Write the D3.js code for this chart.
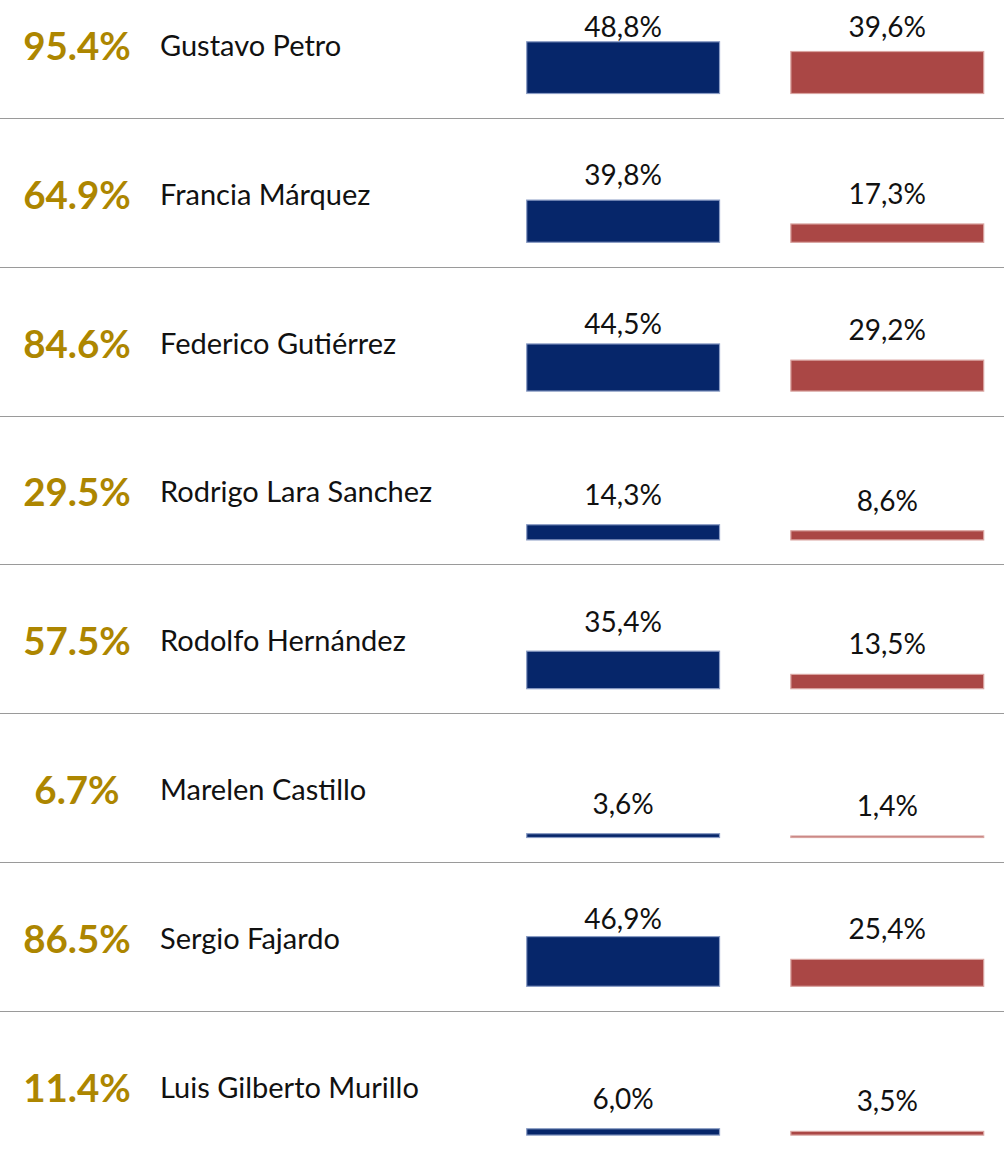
<!DOCTYPE html>
<html>
<head>
<meta charset="utf-8">
<script src="https://cdn.jsdelivr.net/npm/d3@7"></script>
<style>
  html, body { margin: 0; padding: 0; background: #fff; }
  svg { display: block; }
</style>
</head>
<body>
<div id="chart"></div>
<script>
// ------------------------------------------------------
// Data
const candidates = [
  'Gustavo Petro',
  'Francia Márquez',
  'Federico Gutiérrez',
  'Rodrigo Lara Sanchez',
  'Rodolfo Hernández',
  'Marelen Castillo',
  'Sergio Fajardo',
  'Luis Gilberto Murillo'
]
const totals = [95.4, 64.9, 84.6, 29.5, 57.5, 6.7, 86.5, 11.4]
const blueValues = [48.8, 39.8, 44.5, 14.3, 35.4, 3.6, 46.9, 6.0]
const redValues = [39.6, 17.3, 29.2, 8.6, 13.5, 1.4, 25.4, 3.5]
const seriesKeys = ['blue', 'red']

// ------------------------------------------------------
// Size of the page
const width = 1004
const height = 1156

const fontFamily = 'Lato, "Open Sans", sans-serif'
const colors = { blue: '#06266a', red: '#aa4745' }
const edges = { blue: '#8a9cc4', red: '#d9a4a0' }

const svg = d3.select('#chart')
  .append('svg')
  .attr('width', width)
  .attr('height', height)

// One band per candidate row (the first row is cropped at the top)
const rowScale = d3.scaleBand()
  .domain(candidates)
  .range([-30.8, 1159.6])

// Two bar columns
const colScale = d3.scaleBand()
  .domain(seriesKeys)
  .range([526.7, 983.7])
  .paddingInner(0.27)

// Bar height per percentage point
const hScale = d3.scaleLinear()
  .domain([0, 100])
  .range([0, 106])

const commaFormat = d3.formatLocale({ decimal: ',', thousands: '.', grouping: [3], currency: ['', ''] }).format('.1f')
const dotFormat = d3.format('.1f')

const rows = candidates.map((name, i) => ({
  name,
  total: totals[i],
  bars: [
    { key: 'blue', value: blueValues[i] },
    { key: 'red', value: redValues[i] }
  ]
}))

// Separator lines under every row but the last
svg.selectAll('line.sep')
  .data(candidates.slice(0, -1))
  .enter()
  .append('line')
  .attr('class', 'sep')
  .attr('x1', 0)
  .attr('x2', width)
  .attr('y1', d => Math.round(rowScale(d) + rowScale.bandwidth()) + 0.5)
  .attr('y2', d => Math.round(rowScale(d) + rowScale.bandwidth()) + 0.5)
  .attr('stroke', '#9a9a9a')
  .attr('stroke-width', 1.2)

const row = svg.selectAll('g.row')
  .data(rows)
  .enter()
  .append('g')
  .attr('class', 'row')
  .attr('transform', d => `translate(0, ${rowScale(d.name) + rowScale.bandwidth()})`)

// Gold overall percentage
row.append('text')
  .attr('x', 77)
  .attr('y', -58)
  .attr('text-anchor', 'middle')
  .attr('font-family', fontFamily)
  .attr('font-weight', 700)
  .attr('font-size', 38.5)
  .attr('fill', '#ad8600')
  .text(d => dotFormat(d.total) + '%')

// Candidate name
row.append('text')
  .attr('x', 160)
  .attr('y', -62)
  .attr('font-family', fontFamily)
  .attr('font-size', 29)
  .attr('fill', '#111')
  .text(d => d.name)

// Bars
const baseline = -24.5

const bar = row.selectAll('g.bar')
  .data(d => d.bars)
  .enter()
  .append('g')
  .attr('class', 'bar')

bar.append('rect')
  .attr('x', d => colScale(d.key))
  .attr('width', colScale.bandwidth())
  .attr('y', d => baseline - hScale(d.value))
  .attr('height', d => hScale(d.value))
  .attr('fill', d => colors[d.key])
  .attr('stroke', d => edges[d.key])
  .attr('stroke-width', 1.2)

// Value labels, pushed up above the bar but never above the row's label line
bar.append('text')
  .attr('x', d => colScale(d.key) + colScale.bandwidth() / 2)
  .attr('y', d => Math.max(baseline - 57, baseline - hScale(d.value) - 20))
  .attr('text-anchor', 'middle')
  .attr('font-family', fontFamily)
  .attr('font-size', 28)
  .attr('fill', '#111')
  .text(d => commaFormat(d.value) + '%')
</script>
</body>
</html>
